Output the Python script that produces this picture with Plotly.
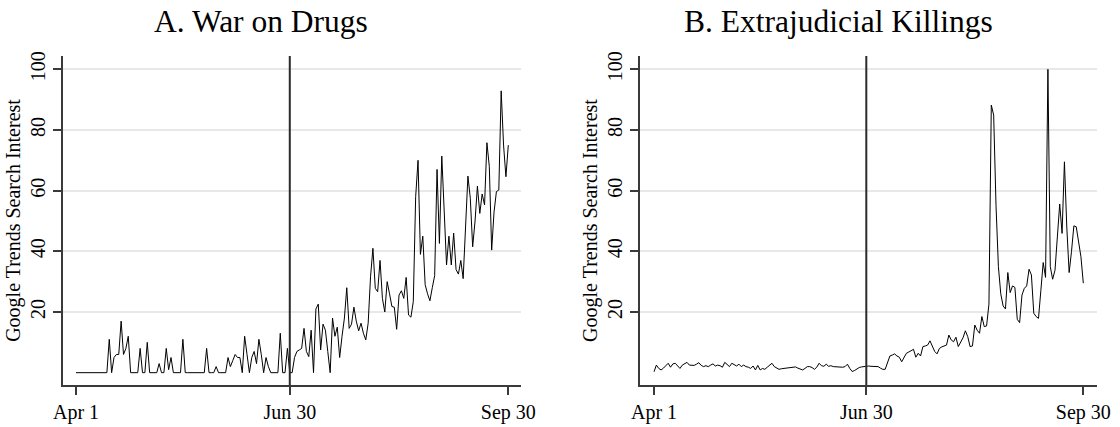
import plotly.graph_objects as go

# day index 0 = Apr 1, 90 = Jun 30, 182 = Sep 30
days = list(range(183))

war_on_drugs = [
    0, 0, 0, 0, 0, 0, 0, 0, 0, 0,            # 0-9
    0, 0, 0, 0, 11, 0, 5, 6, 6, 17,          # 10-19
    6, 8, 12, 0, 0, 0, 0, 8, 0, 0,           # 20-29
    10, 0, 0, 0, 0, 3, 0, 0, 8, 1,           # 30-39
    5, 0, 0, 0, 0, 11, 0, 0, 0, 0,           # 40-49
    0, 0, 0, 0, 0, 8, 0, 0, 0, 2,            # 50-59
    0, 0, 0, 0, 5, 2, 4, 6, 5, 5,            # 60-69
    0, 12, 6, 0, 5, 7, 3, 11, 6, 0,          # 70-79
    5, 2, 0, 0, 0, 0, 13, 0, 0, 8,           # 80-89
    0, 0, 5, 7, 7.5, 8, 14.6, 7, 5.3, 14,    # 90-99
    0, 21, 22.6, 7.5, 16, 14, 7, 0, 18, 12,  # 100-109
    15, 5, 12, 18, 28, 14.6, 16, 21.6, 17, 13.8,   # 110-119
    16.3, 13, 10.8, 16.3, 31.6, 41, 27.8, 26.7, 37, 24.5,  # 120-129
    20, 30, 26, 21.8, 21.6, 14.3, 25.6, 27, 24.5, 31.4,    # 130-139
    19, 18.3, 23.4, 58, 70, 39, 45, 29, 26, 23.7,          # 140-149
    28, 32, 67, 42.6, 71.4, 53, 35.5, 45, 35.5, 46,        # 150-159
    34, 32.5, 37, 31, 47, 64.8, 57.5, 41.5, 50, 61.5,      # 160-169
    52.5, 58.9, 55.3, 75.8, 68, 40.4, 53, 59.7, 60.2, 92.9,  # 170-179
    75, 64.6, 75,                                           # 180-182
]

extrajudicial_killings = [
    0.3, 2.5, 1.4, 0.9, 1.5, 2.5, 3.1, 1.8, 2.9, 3.1,      # 0-9
    2.2, 1.4, 2.5, 3.1, 3.4, 2.5, 2.5, 2.4, 2.8, 3.3,      # 10-19
    2.4, 2.0, 2.3, 2.0, 2.5, 2.9, 2.2, 2.5, 2.3, 1.8,      # 20-29
    3.4, 2.6, 2.0, 3.1, 2.5, 2.2, 2.8, 2.0, 2.5, 2.0,      # 30-39
    1.8, 1.4, 2.2, 0.9, 2.4, 0.9, 1.4, 1.1, 1.8, 2.5,      # 40-49
    3.1, 2.0, 1.4, 1.1, 1.3, 1.4, 1.5, 1.7, 1.8, 1.9,      # 50-59
    1.9, 1.5, 1.2, 0.9, 1.4, 2.0, 2.0, 1.7, 1.1, 1.8,      # 60-69
    3.1, 2.3, 2.1, 2.8, 2.1, 2.3, 2.0, 1.9, 2.0, 1.7,      # 70-79
    1.8, 2.0, 2.8, 1.4, 0.4, 0.7, 1.2, 1.7, 1.9, 2.0,      # 80-89
    2.2, 2.2, 2.1, 2.1, 2.0, 2.0, 1.5, 1.1, 1.1, 3.5,      # 90-99
    5.5, 5.8, 6.2, 5.5, 5.1, 3.6, 5.0, 6.4, 6.8, 7.2,      # 100-109
    7.7, 5.1, 6.4, 5.5, 8.6, 8.8, 9.1, 10.5, 8.6, 7.0,     # 110-119
    6.2, 8.0, 8.5, 8.8, 9.1, 12.4, 10.8, 10.2, 11.7, 8.6,  # 120-129
    10.2, 11.5, 13.8, 11.9, 8.6, 8.8, 15.7, 14.0, 13.0, 18.5,  # 130-139
    15.2, 15.4, 22.6, 88.2, 84.9, 55, 35, 26, 22, 21,      # 140-149
    33, 26.4, 28.6, 28.1, 17.6, 16.5, 25.6, 27.8, 28.6, 34.1,  # 150-159
    32.2, 19.6, 18.5, 17.9, 27, 36.3, 31.4, 100, 35, 30.8,   # 160-169
    33.8, 45, 55.6, 45.9, 69.5, 48, 33, 40, 48.4, 48.1,      # 170-179
    43, 38.2, 29.5,                                           # 180-182
]

panel_titles = ["A. War on Drugs", "B. Extrajudicial Killings"]
x_tick_vals = [0, 90, 182]
x_tick_text = ["Apr 1", "Jun 30", "Sep 30"]
y_tick_vals = [20, 40, 60, 80, 100]
y_axis_title = "Google Trends Search Interest"
event_day = 90  # Jun 30

W, H = 1120, 427
FONT = "Liberation Serif, Times New Roman, serif"
AXC = "#3a3a3a"

fig = go.Figure()
fig.add_trace(go.Scatter(x=days, y=war_on_drugs, mode="lines",
                         line=dict(color="black", width=1), xaxis="x", yaxis="y",
                         showlegend=False, hoverinfo="skip"))
fig.add_trace(go.Scatter(x=days, y=extrajudicial_killings, mode="lines",
                         line=dict(color="black", width=1), xaxis="x2", yaxis="y2",
                         showlegend=False, hoverinfo="skip"))

ydom = [(H - 385) / H, (H - 56) / H]
yrange = [-4.06, 104.38]


def xax(domain, rng, anchor):
    return dict(domain=domain, range=rng, anchor=anchor, automargin=False,
                tickmode="array", tickvals=x_tick_vals, ticktext=x_tick_text,
                ticks="outside", ticklen=8, tickwidth=1.5, tickcolor=AXC,
                showline=True, linecolor=AXC, linewidth=1.5,
                showgrid=False, zeroline=False,
                tickfont=dict(family=FONT, size=20, color="black"))


def yax(anchor):
    return dict(domain=ydom, range=yrange, anchor=anchor, automargin=False,
                tickmode="array", tickvals=y_tick_vals,
                ticks="outside", ticklen=8, tickwidth=1.5, tickcolor=AXC,
                tickangle=-90,
                showline=True, linecolor=AXC, linewidth=1.5,
                showgrid=True, gridcolor="#e8e8e8", gridwidth=2,
                zeroline=False,
                tickfont=dict(family=FONT, size=20, color="black"),
                title=dict(text=y_axis_title, standoff=1,
                           font=dict(family=FONT, size=20, color="black")))


fig.update_layout(
    width=W, height=H,
    margin=dict(l=0, r=0, t=0, b=0, autoexpand=False),
    paper_bgcolor="white", plot_bgcolor="white",
    xaxis=xax([62.7 / W, 520.7 / W], [-5.6, 187.22], "y"),
    yaxis=yax("x"),
    xaxis2=xax([640 / W, 1096.7 / W], [-5.94, 187.68], "y2"),
    yaxis2=yax("x2"),
)

for xa, ya in (("x", "y"), ("x2", "y2")):
    fig.add_shape(type="line", xref=xa, yref=f"{ya} domain",
                  x0=event_day, x1=event_day, y0=0, y1=1,
                  line=dict(color="#2a2a2a", width=2), layer="above")

for cx, t in zip([261.3, 838], panel_titles):
    fig.add_annotation(x=cx / W, y=(H - 22) / H, xref="paper", yref="paper",
                       text=t, showarrow=False, xanchor="center", yanchor="middle",
                       font=dict(family=FONT, size=31.5, color="black"))

fig.write_html("out.html")
